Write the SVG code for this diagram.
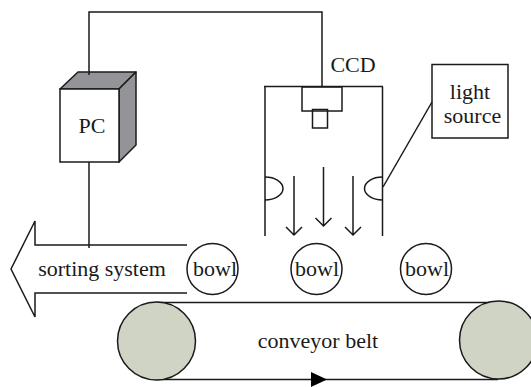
<svg xmlns="http://www.w3.org/2000/svg" width="531" height="387" viewBox="0 0 531 387">
<style>
.l{fill:none;stroke:#1a1a1a;stroke-width:1.5}
.s{fill:#fff;stroke:#1a1a1a;stroke-width:1.5}
.g{fill:#929497;stroke:#1a1a1a;stroke-width:1.5;stroke-linejoin:round}
.w{fill:#d0d4c4;stroke:#1a1a1a;stroke-width:1.5}
text{font-family:"Liberation Serif","Times New Roman",serif;font-size:22px;fill:#1a1a1a;text-anchor:middle}
</style>
<rect width="531" height="387" fill="#fff"/>
<g id="conveyor">
<path class="l" d="M156 302.500H498M156 379.500H498"/>
<circle class="w" cx="156.500" cy="341" r="39"/>
<circle class="w" cx="498.500" cy="340" r="39"/>
<polygon points="311,372 327,379.500 311,387" fill="#000"/>
<text x="318" y="348">conveyor belt</text>
</g>
<g id="sorting-system">
<path class="l" d="M187 245H35V221L11 269L35 317V293H187"/>
<text x="102" y="276">sorting system</text>
</g>
<g id="bowl-1"><circle class="l" cx="212.500" cy="269" r="25.500"/><text x="215" y="276">bowl</text></g>
<g id="bowl-2"><circle class="l" cx="316.500" cy="269" r="25.500"/><text x="317" y="276">bowl</text></g>
<g id="bowl-3"><circle class="l" cx="426" cy="269" r="25.500"/><text x="427" y="276">bowl</text></g>
<g id="pc">
<polygon class="g" points="60,89 78,72 136,72 119,89"/>
<polygon class="g" points="119,89 136,72 136,145 119,162"/>
<rect class="s" x="60" y="89" width="59" height="73"/>
<text x="92" y="133">PC</text>
</g>
<g id="ccd">
<path class="l" d="M264 86.500H383M265 86.500V236M382.500 86.500V236"/>
<rect class="l" x="302" y="87" width="40" height="24"/>
<rect class="l" x="312.500" y="109.500" width="15" height="18.500"/>
<path class="l" d="M265 177A18 11.500 0 0 1 265 200M382.500 177A18 11.500 0 0 0 382.500 200"/>
<text x="353" y="72">CCD</text>
</g>
<g id="light-source">
<rect class="l" x="432" y="64.500" width="76" height="73.500"/>
<text x="470" y="99">light</text>
<text x="472.500" y="123">source</text>
</g>
<g id="connectors">
<path class="l" d="M89 75V12H322V86"/>
<path class="l" d="M89 162V248"/>
<path class="l" d="M432 102L383 187"/>
<path class="l" d="M294 176V235M286 227L294 235L302 227"/>
<path class="l" d="M323.500 167V226M315.500 218L323.500 226L331.500 218"/>
<path class="l" d="M353 176V235M345 227L353 235L361 227"/>
</g>
</svg>
